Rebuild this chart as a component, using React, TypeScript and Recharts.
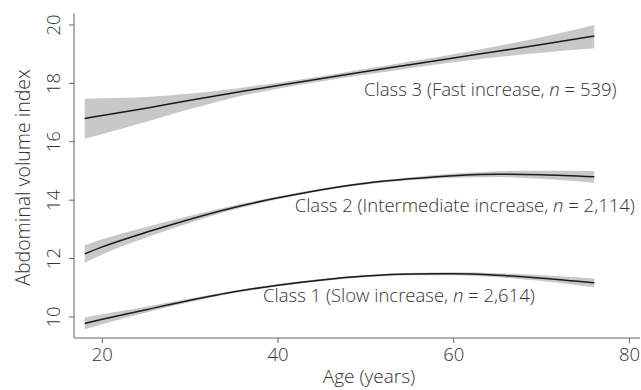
import React from 'react';
import {
  ComposedChart,
  Area,
  Line,
  XAxis,
  YAxis,
  ReferenceDot,
} from 'recharts';

const AGES = [18, 20, 25, 30, 35, 40, 45, 50, 55, 60, 65, 70, 76];

const CLASS1 = [9.78, 9.92, 10.25, 10.57, 10.86, 11.09, 11.27, 11.4, 11.47, 11.48, 11.43, 11.33, 11.17];
const CLASS1_LOW = [9.58, 9.75, 10.15, 10.51, 10.82, 11.05, 11.23, 11.36, 11.43, 11.43, 11.36, 11.23, 11.02];
const CLASS1_HIGH = [9.98, 10.09, 10.35, 10.63, 10.9, 11.13, 11.31, 11.44, 11.51, 11.53, 11.5, 11.43, 11.32];

const CLASS2 = [12.16, 12.4, 12.9, 13.35, 13.75, 14.08, 14.36, 14.58, 14.73, 14.84, 14.89, 14.87, 14.8];
const CLASS2_LOW = [11.86, 12.14, 12.72, 13.23, 13.68, 14.03, 14.32, 14.54, 14.68, 14.77, 14.79, 14.73, 14.6];
const CLASS2_HIGH = [12.46, 12.66, 13.08, 13.47, 13.82, 14.13, 14.4, 14.62, 14.78, 14.91, 14.99, 15.01, 15.0];

const CLASS3 = [16.8, 16.9, 17.15, 17.42, 17.68, 17.93, 18.17, 18.41, 18.64, 18.87, 19.1, 19.33, 19.62];
const CLASS3_LOW = [16.1, 16.27, 16.69, 17.12, 17.52, 17.82, 18.07, 18.3, 18.52, 18.72, 18.9, 19.05, 19.2];
const CLASS3_HIGH = [17.47, 17.49, 17.53, 17.65, 17.82, 18.02, 18.24, 18.5, 18.75, 19.0, 19.28, 19.58, 20.0];

const X_TICKS = [20, 40, 60, 80];
const Y_TICKS = [10, 12, 14, 16, 18, 20];

const ANNOTATIONS = [
  { age: 49.8, value: 17.74, label: 'Class 3 (Fast increase, ', n: '539' },
  { age: 41.9, value: 13.77, label: 'Class 2 (Intermediate increase, ', n: '2,114' },
  { age: 38.3, value: 10.68, label: 'Class 1 (Slow increase, ', n: '2,614' },
];

const data = AGES.map((age, i) => ({
  age,
  c1: CLASS1[i],
  c1Band: [CLASS1_LOW[i], CLASS1_HIGH[i]],
  c2: CLASS2[i],
  c2Band: [CLASS2_LOW[i], CLASS2_HIGH[i]],
  c3: CLASS3[i],
  c3Band: [CLASS3_LOW[i], CLASS3_HIGH[i]],
}));

const FONT = '"Open Sans", sans-serif';
const TEXT = '#333333';
const AXIS = '#666666';
const BAND = '#c8c8c8';
const LINE = '#1a1a1a';

const YTick = ({ x, y, payload }: any) => (
  <text
    x={x}
    y={y}
    transform={`rotate(-90, ${x}, ${y})`}
    textAnchor="middle"
    fill={TEXT}
    fontSize={18.5}
    fontFamily={FONT}
    fontWeight={300}
  >
    {payload.value}
  </text>
);

const annotationShape = (a: any) => (props: any) => (
  <text
    x={props.cx}
    y={props.cy}
    dominantBaseline="middle"
    fill={TEXT}
    fontSize={18.5}
    fontFamily={FONT}
    fontWeight={300}
  >
    {a.label}
    <tspan fontStyle="italic">n</tspan>
    {` = ${a.n})`}
  </text>
);

export default function App() {
  return (
    <div style={{ position: 'absolute', left: 0, top: 0, background: '#fff' }}>
      <ComposedChart
        width={641}
        height={390}
        data={data}
        margin={{ top: 13, right: 1, bottom: 0, left: 0 }}
      >
        <XAxis
          dataKey="age"
          type="number"
          domain={[16.78, 81.2]}
          ticks={X_TICKS}
          allowDataOverflow
          height={52}
          stroke={AXIS}
          tickSize={5}
          tickMargin={5}
          tick={{ fill: TEXT, fontSize: 18.5, fontFamily: FONT, fontWeight: 300 }}
          label={{
            content: ({ viewBox }: any) => (
              <text
                x={viewBox.x + viewBox.width / 2 + 12}
                y={viewBox.y + 45}
                textAnchor="middle"
                fill={TEXT}
                fontSize={19}
                fontFamily={FONT}
                fontWeight={300}
              >
                Age (years)
              </text>
            ),
          }}
        />
        <YAxis
          type="number"
          domain={[9.28, 20.41]}
          ticks={Y_TICKS}
          allowDataOverflow
          width={74}
          stroke={AXIS}
          tickSize={5}
          tickMargin={9}
          tick={<YTick />}
          label={{
            content: ({ viewBox }: any) => {
              const cx = 30;
              const cy = viewBox.y + viewBox.height / 2 + 2;
              return (
                <text
                  x={cx}
                  y={cy}
                  transform={`rotate(-90, ${cx}, ${cy})`}
                  textAnchor="middle"
                  fill={TEXT}
                  fontSize={19.5}
                  fontFamily={FONT}
                  fontWeight={300}
                >
                  Abdominal volume index
                </text>
              );
            },
          }}
        />
        <Area dataKey="c3Band" type="monotone" fill={BAND} fillOpacity={1} stroke="none" isAnimationActive={false} activeDot={false} />
        <Area dataKey="c2Band" type="monotone" fill={BAND} fillOpacity={1} stroke="none" isAnimationActive={false} activeDot={false} />
        <Area dataKey="c1Band" type="monotone" fill={BAND} fillOpacity={1} stroke="none" isAnimationActive={false} activeDot={false} />
        <Line dataKey="c3" type="monotone" stroke={LINE} strokeWidth={1.5} dot={false} activeDot={false} isAnimationActive={false} />
        <Line dataKey="c2" type="monotone" stroke={LINE} strokeWidth={1.5} dot={false} activeDot={false} isAnimationActive={false} />
        <Line dataKey="c1" type="monotone" stroke={LINE} strokeWidth={1.5} dot={false} activeDot={false} isAnimationActive={false} />
        {ANNOTATIONS.map((a) => (
          <ReferenceDot
            key={a.n}
            x={a.age}
            y={a.value}
            r={0}
            shape={annotationShape(a)}
          />
        ))}
      </ComposedChart>
    </div>
  );
}
